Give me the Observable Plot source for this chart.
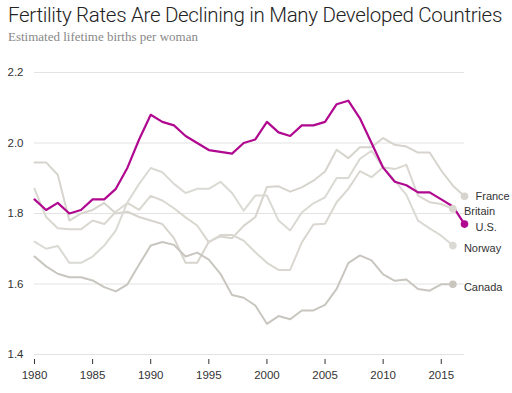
<!DOCTYPE html>
<html><head><meta charset="utf-8">
<script src="https://cdn.jsdelivr.net/npm/d3@7"></script>
<script src="https://cdn.jsdelivr.net/npm/@observablehq/plot@0.6"></script>
<style>
html,body{margin:0;padding:0;background:#fff;width:512px;height:393px;overflow:hidden;position:relative}
#title{position:absolute;left:8px;top:5px;font-family:Roboto;font-weight:300;font-size:20.5px;line-height:21px;color:#222;white-space:nowrap}
#sub{position:absolute;left:8px;top:30px;font-family:"Liberation Serif";font-size:13px;line-height:13px;color:#888;white-space:nowrap}
#chart{position:absolute;left:0;top:50px}
</style></head><body>
<div id="title">Fertility Rates Are Declining in Many Developed Countries</div>
<div id="sub">Estimated lifetime births per woman</div>
<div id="chart"></div>
<script>
const years = [1980,1981,1982,1983,1984,1985,1986,1987,1988,1989,1990,1991,1992,1993,1994,1995,1996,1997,1998,1999,2000,2001,2002,2003,2004,2005,2006,2007,2008,2009,2010,2011,2012,2013,2014,2015,2016,2017];
const us      = [1.84,1.81,1.83,1.80,1.81,1.84,1.84,1.87,1.93,2.01,2.08,2.06,2.05,2.02,2.00,1.98,1.975,1.97,2.00,2.01,2.06,2.03,2.02,2.05,2.05,2.06,2.11,2.12,2.07,2.00,1.93,1.89,1.88,1.86,1.86,1.84,1.82,1.77];
const france  = [1.945,1.945,1.91,1.78,1.80,1.81,1.83,1.80,1.805,1.79,1.78,1.77,1.73,1.66,1.66,1.72,1.735,1.73,1.765,1.79,1.875,1.877,1.862,1.874,1.893,1.919,1.981,1.957,1.988,1.988,2.014,1.995,1.99,1.973,1.973,1.922,1.879,1.849];
const britain = [1.87,1.79,1.758,1.755,1.755,1.78,1.77,1.805,1.83,1.81,1.85,1.837,1.815,1.789,1.766,1.718,1.739,1.739,1.723,1.69,1.66,1.64,1.64,1.718,1.769,1.771,1.832,1.87,1.92,1.903,1.931,1.926,1.938,1.851,1.832,1.827,1.813];
const norway  = [1.72,1.70,1.708,1.66,1.66,1.678,1.709,1.752,1.832,1.884,1.929,1.917,1.884,1.858,1.87,1.87,1.89,1.858,1.808,1.851,1.851,1.78,1.752,1.803,1.829,1.846,1.901,1.901,1.955,1.978,1.931,1.893,1.853,1.78,1.758,1.737,1.709];
const canada  = [1.678,1.65,1.629,1.619,1.619,1.61,1.591,1.579,1.599,1.655,1.709,1.719,1.711,1.678,1.689,1.669,1.629,1.569,1.561,1.539,1.487,1.509,1.50,1.525,1.525,1.541,1.586,1.659,1.681,1.667,1.627,1.609,1.613,1.586,1.581,1.599,1.599];
const countryNames = ["France","Britain","Norway","Canada","U.S."];
const xTicks = [1980,1985,1990,1995,2000,2005,2010,2015];
const yTicks = [1.4,1.6,1.8,2.0,2.2];

// fit title to reference width
const t = document.getElementById("title");
const tw = t.getBoundingClientRect().width;
const target = 494;
t.style.letterSpacing = ((target - tw) / t.textContent.length).toFixed(3) + "px";

const series = {"France":france,"Britain":britain,"Norway":norway,"Canada":canada,"U.S.":us};
const colors = {"France":"#d6d4cd","Britain":"#d9d7d0","Norway":"#dbd9d3","Canada":"#c8c6bf","U.S.":"#b0088f"};
const rows = [];
for (const c of countryNames) series[c].forEach((v,i)=>rows.push({country:c, year:years[i], value:v}));
const last = countryNames.map(c=>{const r = rows.filter(d=>d.country===c); return r[r.length-1];});
const grays = rows.filter(d=>d.country!=="U.S.");
const usRows = rows.filter(d=>d.country==="U.S.");

const chart = Plot.plot({
  width:512, height:343,
  marginTop:22, marginBottom:39, marginLeft:34, marginRight:48,
  x:{domain:[1980,2017]},
  y:{domain:[1.4,2.2]},
  style:{fontFamily:"'Liberation Sans', Arial, sans-serif", fontSize:"11.5px", color:"#333", background:"transparent", overflow:"visible"},
  marks:[
    Plot.gridY(yTicks, {stroke:"#e3e3e3", strokeOpacity:1, strokeWidth:1}),
    Plot.axisY(yTicks, {tickSize:0, textAnchor:"start", dx:-18, label:null, tickFormat:d3.format(".1f"), fill:"#333", fontSize:11.5}),
    Plot.axisX(xTicks, {tickSize:5, dy:5, tickPadding:6, tickFormat:d=>String(d), label:null, stroke:"#333", fill:"#333", fontSize:11.5}),
    Plot.line(grays, {x:"year", y:"value", z:"country", stroke:d=>colors[d.country], strokeWidth:2}),
    Plot.line(usRows, {x:"year", y:"value", stroke:colors["U.S."], strokeWidth:2.2}),
    Plot.dot(last, {x:"year", y:"value", r:3.8, fill:d=>colors[d.country], stroke:"none"}),
    Plot.text(last.filter(d=>d.country==="France"), {x:"year", y:"value", text:"country", dx:11, textAnchor:"start", fill:"#333", fontSize:11}),
    Plot.text(last.filter(d=>d.country!=="France"), {x:"year", y:"value", text:"country", dx:11, dy:3, textAnchor:"start", fill:"#333", fontSize:11})
  ]
});
document.getElementById("chart").appendChild(chart);
</script>
</body></html>
